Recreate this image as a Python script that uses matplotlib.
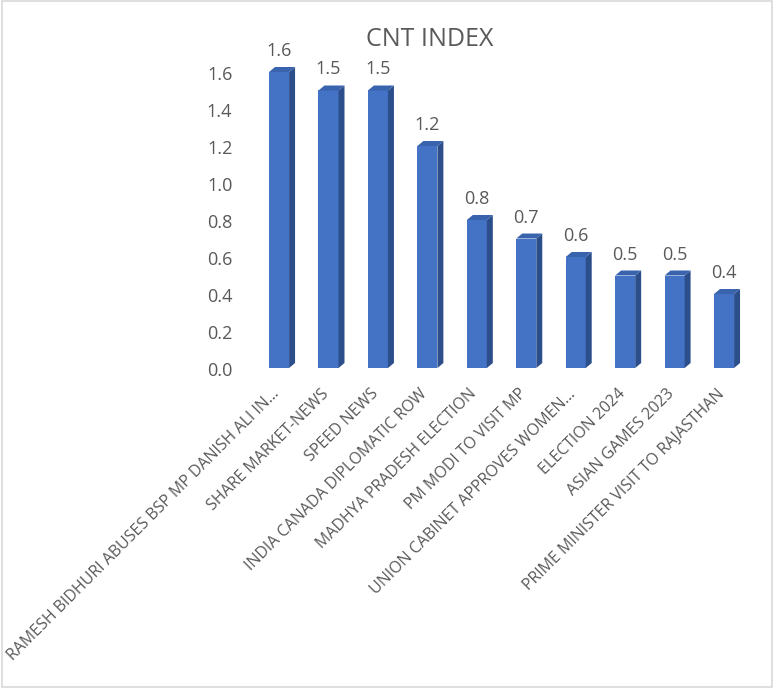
import numpy as np
import matplotlib.pyplot as plt
from matplotlib.patches import Polygon, Rectangle

plt.rcParams['font.family'] = ['Open Sans', 'DejaVu Sans']

# data
topics = [
    "RAMESH BIDHURI ABUSES BSP MP DANISH ALI IN...",
    "SHARE MARKET-NEWS",
    "SPEED NEWS",
    "INDIA CANADA DIPLOMATIC ROW",
    "MADHYA PRADESH ELECTION",
    "PM MODI TO VISIT MP",
    "UNION CABINET APPROVES WOMEN...",
    "ELECTION 2024",
    "ASIAN GAMES 2023",
    "PRIME MINISTER VISIT TO RAJASTHAN",
]
cnt_index = [1.6, 1.5, 1.5, 1.2, 0.8, 0.7, 0.6, 0.5, 0.5, 0.4]
yticks = [0.0, 0.2, 0.4, 0.6, 0.8, 1.0, 1.2, 1.4, 1.6]

front_col = "#4472C4"
side_col = "#2C4F8C"
top_col = "#3A63AE"
text_col = "#595959"

fig = plt.figure(figsize=(7.74, 6.88), dpi=100)
ax = fig.add_axes([0.3286, 0.4651, 0.6388, 0.4706])

x = np.arange(len(topics))
w = 0.405
dx = 0.121   # fake 3d depth
dy = 0.027

for xi, v in zip(x, cnt_index):
    x0 = xi - w / 2
    x1 = xi + w / 2
    ax.add_patch(Rectangle((x0, 0), w, v, facecolor=front_col, edgecolor="none"))
    ax.add_patch(Polygon([(x1, 0), (x1 + dx, dy), (x1 + dx, v + dy), (x1, v)],
                         closed=True, facecolor=side_col, edgecolor="none"))
    ax.add_patch(Polygon([(x0, v), (x1, v), (x1 + dx, v + dy), (x0 + dx, v + dy)],
                         closed=True, facecolor=top_col, edgecolor="none"))
    ax.annotate(f"{v:.1f}", (xi, v), xytext=(0, 12), textcoords="offset pixels",
                ha="center", va="bottom", fontsize=13, color=text_col)

ax.set_xlim(-0.5, 9.5)
ax.set_ylim(0, 1.75)
ax.set_xticks([])
ax.set_yticks([])
for s in ax.spines.values():
    s.set_visible(False)

# value axis labels (sit a touch below the bar floor, like the 3d wall)
for t in yticks:
    ax.annotate(f"{t:.1f}", (0, t), xycoords=("axes fraction", "data"),
                xytext=(-22, -3), textcoords="offset pixels",
                ha="right", va="center", fontsize=13, color=text_col,
                annotation_clip=False)

# category labels, rotated like excel
for xi, name in zip(x, topics):
    ax.annotate(name, (xi, 0), xytext=(-8, -18), textcoords="offset pixels",
                rotation=45, ha="right", va="top", rotation_mode="anchor",
                fontsize=11.5, color=text_col, annotation_clip=False)

fig.text(430 / 774, 1 - 40 / 688, "CNT INDEX", ha="center", va="center",
         fontsize=18, color=text_col)

# light chart border
fig.patches.append(Rectangle((0.002, 0.002), 0.996, 0.996, transform=fig.transFigure,
                             fill=False, edgecolor="#D9D9D9", linewidth=1.2))

fig.savefig("out.png", dpi=100)
